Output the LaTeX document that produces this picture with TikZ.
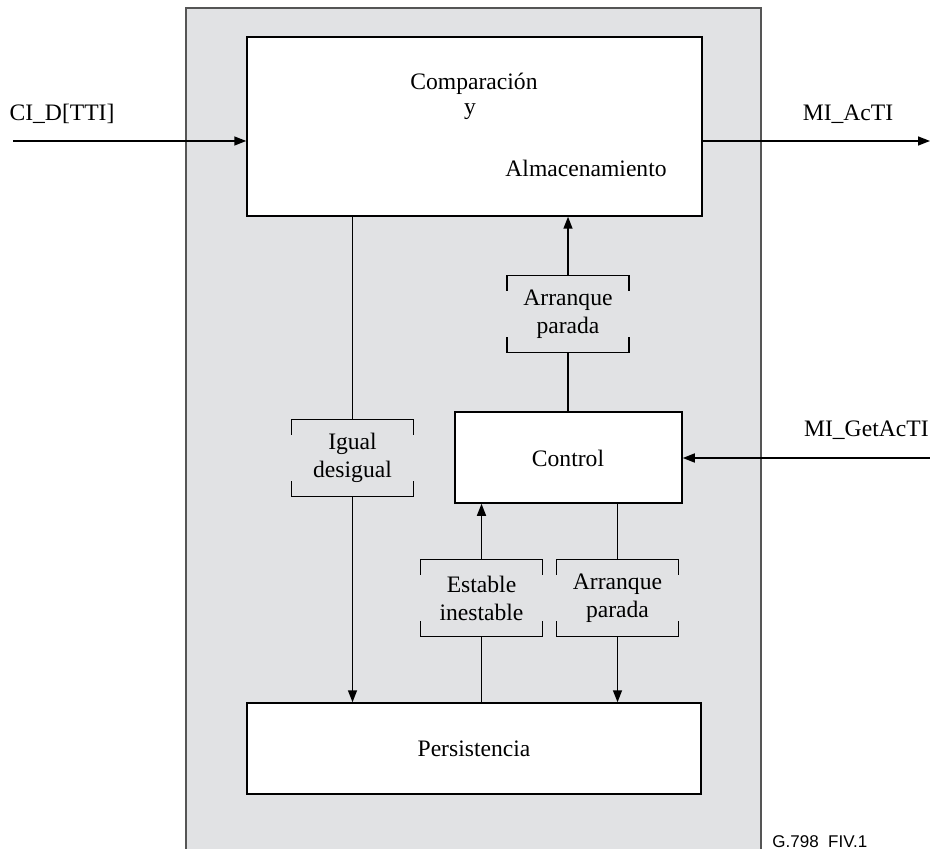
\documentclass[tikz,border=0pt]{standalone}
\usepackage{fontspec}
\setmainfont{Liberation Serif}
\newfontfamily\labelsans{Liberation Sans}
\usetikzlibrary{arrows.meta}
\definecolor{panelgray}{HTML}{E1E2E4}
\definecolor{paneledge}{HTML}{555555}
\tikzset{
  mainfont/.style={font=\fontsize{11.8pt}{14pt}\selectfont},
  whitebox/.style={draw, fill=white, line width=0.75pt, inner sep=0pt},
  txt/.style={mainfont, inner sep=0pt},
  brk/.style={mainfont, align=center, inner sep=0pt, minimum width=60.5pt, minimum height=38pt},
  conn/.style={line width=0.75pt},
  arr/.style={conn, -{Triangle[length=6pt,width=4.5pt]}},
}
\newcommand{\bracketdraw}[1]{%
  \draw[conn] ([yshift=-7.5pt]#1.north west) -- (#1.north west) -- (#1.north east) -- ([yshift=-7.5pt]#1.north east);
  \draw[conn] ([yshift=7.5pt]#1.south west) -- (#1.south west) -- (#1.south east) -- ([yshift=7.5pt]#1.south east);}
\begin{document}
\begin{tikzpicture}[x=0.5pt,y=-0.5pt]
\useasboundingbox (0,0) rectangle (930,849);
% panel
\fill[panelgray] (186,8) rectangle (761,849);
\draw[paneledge, line width=1pt] (186,849) -- (186,8) -- (761,8) -- (761,849);
% boxes
\node[whitebox, minimum width=227.5pt, minimum height=89.5pt] (comp) at (474.5,126.5) {};
\node[whitebox, minimum width=113.5pt, minimum height=45.5pt] (ctrl) at (568.5,457.5) {};
\node[whitebox, minimum width=227pt, minimum height=45.5pt] (pers) at (474,748.5) {};
\node[txt] (t1) at (474,84) {Comparación};
\node[txt] (t2) at (470,112) {y};
\node[txt] (t3) at (586,168) {Almacenamiento};
\node[txt] (tctrl) at (568,458) {Control};
\node[txt] (tpers) at (474,749) {Persistencia};
% brackets
\node[brk] (arrtop) at (568,314) {Arranque\\parada};
\node[brk] (igual) at (352.5,458) {Igual\\desigual};
\node[brk] (est) at (481.5,598) {Estable\\inestable};
\node[brk] (arrbot) at (617.5,598) {Arranque\\parada};
\bracketdraw{arrtop}
\bracketdraw{igual}
\bracketdraw{est}
\bracketdraw{arrbot}
% external signals
\coordinate (cin) at (13,141);
\coordinate (aout) at (930,141);
\coordinate (gin) at (930,458);
\draw[arr] (cin) -- (cin -| comp.west);
\draw[arr] (comp.east |- aout) -- (aout);
\draw[arr] (gin) -- (gin -| ctrl.east);
\node[txt] (lcin) at (62,114) {CI\_D[TTI]};
\node[txt] (laout) at (848,114) {MI\_AcTI};
\node[txt, anchor=east] (lgin) at (929,430) {MI\_GetAcTI};
% internal connectors
\draw[conn] (comp.south -| igual) -- (igual.north);
\draw[arr] (igual.south) -- (pers.north -| igual);
\draw[conn] (ctrl.north -| arrtop) -- (arrtop.south);
\draw[arr] (arrtop.north) -- (comp.south -| arrtop);
\draw[conn] (pers.north -| est) -- (est.south);
\draw[arr] (est.north) -- (ctrl.south -| est);
\draw[conn] (ctrl.south -| arrbot) -- (arrbot.north);
\draw[arr] (arrbot.south) -- (pers.north -| arrbot);
% figure id
\node[font=\labelsans\fontsize{8.5pt}{10pt}\selectfont, anchor=base west, inner sep=0pt] (figid) at (772,847) {G.798\ \ FIV.1};
\end{tikzpicture}
\end{document}
